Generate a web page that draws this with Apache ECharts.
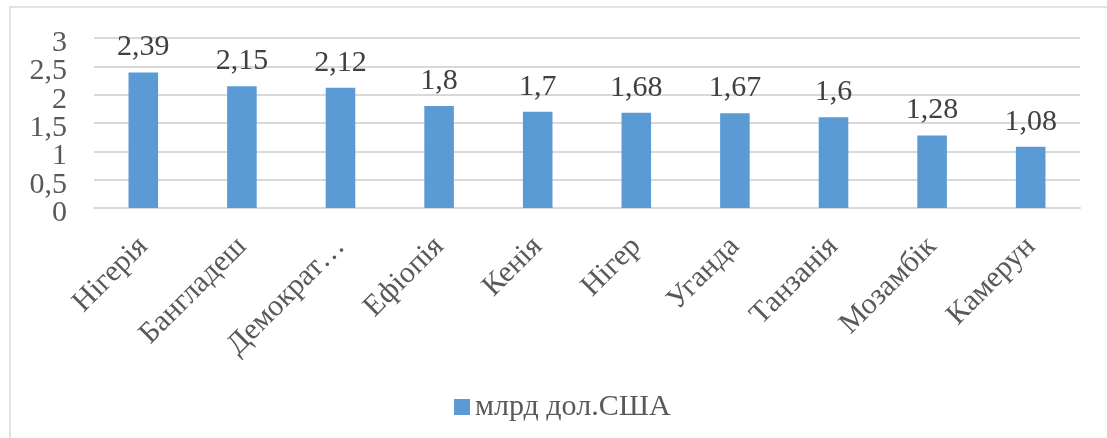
<!DOCTYPE html>
<html>
<head>
<meta charset="utf-8">
<script src="https://cdn.jsdelivr.net/npm/echarts@6/dist/echarts.min.js"></script>
<style>
  html, body { margin: 0; padding: 0; background: #fff; }
  #chart { width: 1107px; height: 438px; }
</style>
</head>
<body>
<div id="chart"></div>
<script>
// categories and values
const countries = ['Нігерія', 'Бангладеш', 'Демократ…', 'Ефіопія', 'Кенія', 'Нігер', 'Уганда', 'Танзанія', 'Мозамбік', 'Камерун']
const values = [2.39, 2.15, 2.12, 1.8, 1.7, 1.68, 1.67, 1.6, 1.28, 1.08]
const seriesName = 'млрд дол.США'

const font = "'Liberation Serif', 'Times New Roman', serif"
const textColor = '#595959'
const comma = v => String(v).replace('.', ',')

// the y labels sit closer than their font height, so whole and half
// values go on two stacked axes to stop ECharts hiding every other one
function yAxisFor(half) {
  return {
    type: 'value',
    position: 'left',
    min: 0,
    max: 3,
    interval: 0.5,
    axisLine: { show: false },
    axisTick: { show: false },
    splitLine: { show: !half, lineStyle: { color: '#d9d9d9', width: 2 } },
    axisLabel: {
      margin: 27,
      color: textColor,
      fontSize: 30,
      lineHeight: 10,
      verticalAlign: 'top',
      fontFamily: font,
      showMinLabel: true,
      showMaxLabel: true,
      formatter: v => (Number.isInteger(v) !== half ? comma(v) : '')
    }
  }
}

const chart = echarts.init(document.getElementById('chart'))
chart.setOption({
  animation: false,
  textStyle: { fontFamily: font },
  graphic: [{
    type: 'rect',
    shape: { x: 10, y: 7, width: 1120, height: 460 },
    style: { fill: 'none', stroke: '#d9d9d9', lineWidth: 1.5 },
    silent: true
  }],
  legend: {
    data: [seriesName],
    left: 449,
    top: 387,
    icon: 'rect',
    itemWidth: 16,
    itemHeight: 16,
    itemGap: 5,
    textStyle: { color: textColor, fontSize: 30, fontFamily: font }
  },
  grid: { left: 94, right: 27, top: 38, bottom: 230 },
  xAxis: {
    type: 'category',
    data: countries,
    axisLine: { lineStyle: { color: '#d9d9d9', width: 2 } },
    axisTick: { show: false },
    axisLabel: {
      rotate: 45,
      interval: 0,
      margin: 34,
      color: textColor,
      fontSize: 30,
      fontFamily: font
    }
  },
  yAxis: [yAxisFor(false), yAxisFor(true)],
  series: [{
    name: seriesName,
    type: 'bar',
    data: values,
    barWidth: '30%',
    itemStyle: { color: '#5b9bd5' },
    label: {
      show: true,
      position: 'top',
      distance: 10,
      color: '#404040',
      fontSize: 30,
      fontFamily: font,
      formatter: p => comma(p.value)
    }
  }]
})
</script>
</body>
</html>
